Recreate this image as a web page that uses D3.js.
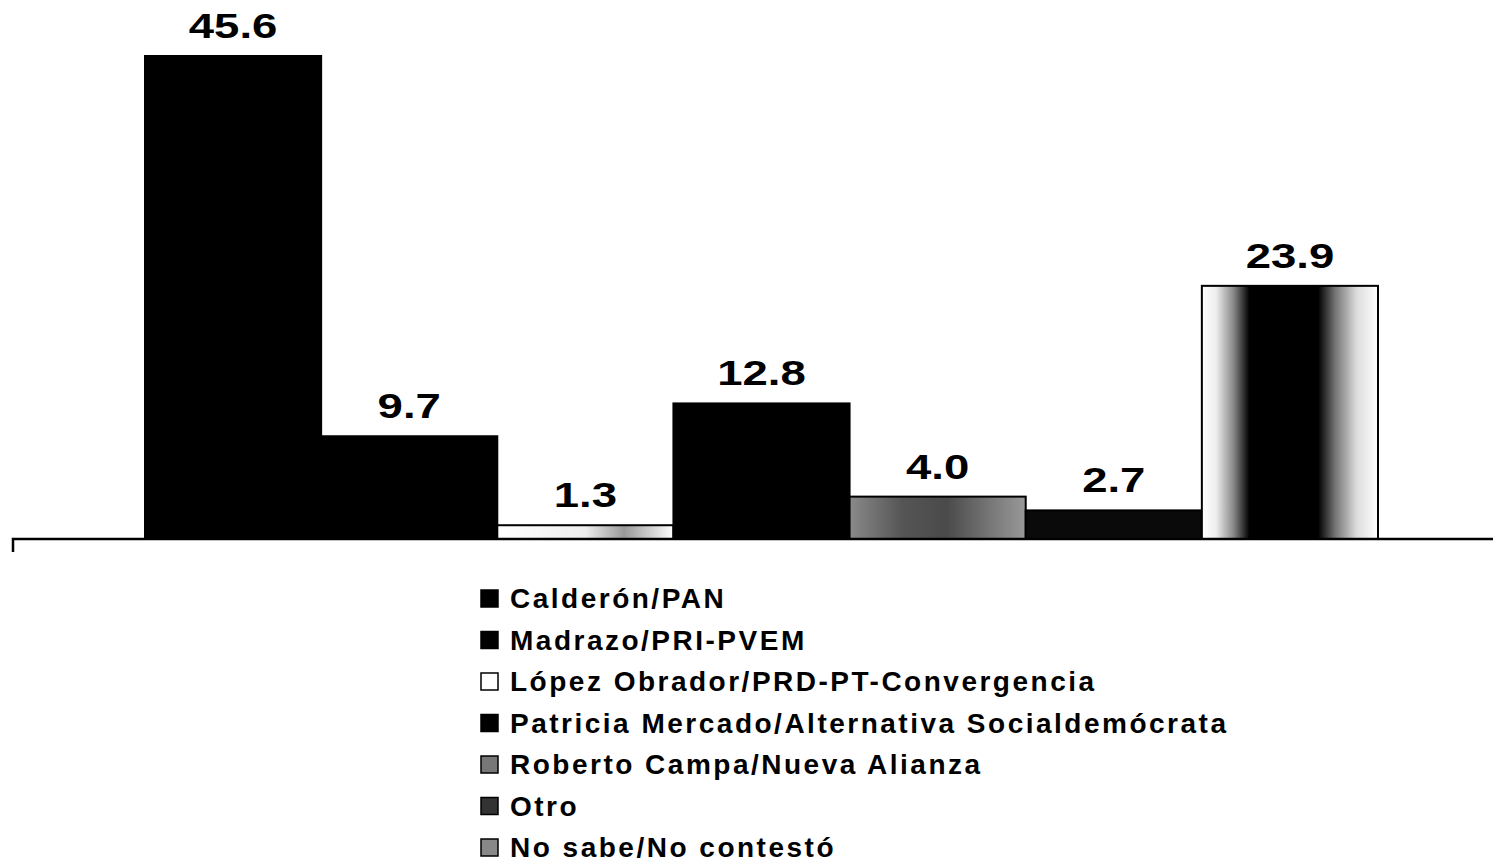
<!DOCTYPE html>
<html>
<head>
<meta charset="utf-8">
<script src="https://cdn.jsdelivr.net/npm/d3@7/dist/d3.min.js"></script>
<style>
  body { margin: 0; background: #fff; }
  text { font-family: "Liberation Sans", Arial, sans-serif; font-weight: bold; fill: #000; }
</style>
</head>
<body>
<script>
// data
const candidates = ['Calderón/PAN', 'Madrazo/PRI-PVEM', 'López Obrador/PRD-PT-Convergencia',
  'Patricia Mercado/Alternativa Socialdemócrata', 'Roberto Campa/Nueva Alianza', 'Otro', 'No sabe/No contestó']
const values = [45.6, 9.7, 1.3, 12.8, 4.0, 2.7, 23.9]

const width = 1493
const height = 864
const baseY = 539

const svg = d3.select('body').append('svg')
  .attr('width', width)
  .attr('height', height)

const defs = svg.append('defs')

// light bar (López)
const g1 = defs.append('linearGradient').attr('id', 'lightGrad')
g1.append('stop').attr('offset', '0%').attr('stop-color', '#fff')
g1.append('stop').attr('offset', '50%').attr('stop-color', '#eee')
g1.append('stop').attr('offset', '72%').attr('stop-color', '#999')
g1.append('stop').attr('offset', '100%').attr('stop-color', '#fff')

// grey speckled bar (Campa)
const g2 = defs.append('linearGradient').attr('id', 'greyGrad')
g2.append('stop').attr('offset', '0%').attr('stop-color', '#8a8a8a')
g2.append('stop').attr('offset', '30%').attr('stop-color', '#555')
g2.append('stop').attr('offset', '55%').attr('stop-color', '#4a4a4a')
g2.append('stop').attr('offset', '80%').attr('stop-color', '#777')
g2.append('stop').attr('offset', '100%').attr('stop-color', '#999')

// white-black-white bar (No sabe)
const g3 = defs.append('linearGradient').attr('id', 'darkGrad')
g3.append('stop').attr('offset', '0%').attr('stop-color', '#fff')
g3.append('stop').attr('offset', '8%').attr('stop-color', '#eee')
g3.append('stop').attr('offset', '18%').attr('stop-color', '#888')
g3.append('stop').attr('offset', '27%').attr('stop-color', '#000')
g3.append('stop').attr('offset', '66%').attr('stop-color', '#000')
g3.append('stop').attr('offset', '76%').attr('stop-color', '#777')
g3.append('stop').attr('offset', '88%').attr('stop-color', '#ddd')
g3.append('stop').attr('offset', '100%').attr('stop-color', '#fff')

const fills = ['#000', '#000', 'url(#lightGrad)', '#000', 'url(#greyGrad)', '#0a0a0a', 'url(#darkGrad)']
const legendFills = ['#000', '#000', '#fff', '#000', '#777', '#333', '#888']

const x = d3.scaleBand()
  .domain(candidates)
  .range([145, 1378])
  .padding(0)

const y = d3.scaleLinear()
  .domain([0, 45.6])
  .range([baseY, 56])

svg.selectAll('rect.bar')
  .data(values)
  .enter()
  .append('rect')
  .attr('class', 'bar')
  .attr('x', (d, i) => x(candidates[i]))
  .attr('y', d => y(d))
  .attr('width', x.bandwidth())
  .attr('height', d => baseY - y(d))
  .attr('fill', (d, i) => fills[i])
  .attr('stroke', '#000')
  .attr('stroke-width', 2)

// value labels, stretched wide like the scan
svg.selectAll('text.val')
  .data(values)
  .enter()
  .append('text')
  .attr('class', 'val')
  .attr('transform', (d, i) => 'translate(' + (x(candidates[i]) + x.bandwidth() / 2) + ',' + (y(d) - 18) + ') scale(1.3,1)')
  .attr('text-anchor', 'middle')
  .style('font-size', '35px')
  .text(d => d.toFixed(1))

// baseline
svg.append('path')
  .attr('d', 'M13,552 V' + baseY + ' H' + width)
  .attr('fill', 'none')
  .attr('stroke', '#000')
  .attr('stroke-width', 2.5)

// legend
const legend = svg.selectAll('g.leg')
  .data(candidates)
  .enter()
  .append('g')
  .attr('class', 'leg')
  .attr('transform', (d, i) => 'translate(481,' + (598 + i * 41.5) + ')')

legend.append('rect')
  .attr('x', 0)
  .attr('y', -8)
  .attr('width', 17)
  .attr('height', 17)
  .attr('fill', (d, i) => legendFills[i])
  .attr('stroke', '#000')
  .attr('stroke-width', 1.5)

legend.append('text')
  .attr('x', 29)
  .attr('y', 10)
  .style('font-size', '28px')
  .style('letter-spacing', '2.5px')
  .text(d => d)
</script>
</body>
</html>
